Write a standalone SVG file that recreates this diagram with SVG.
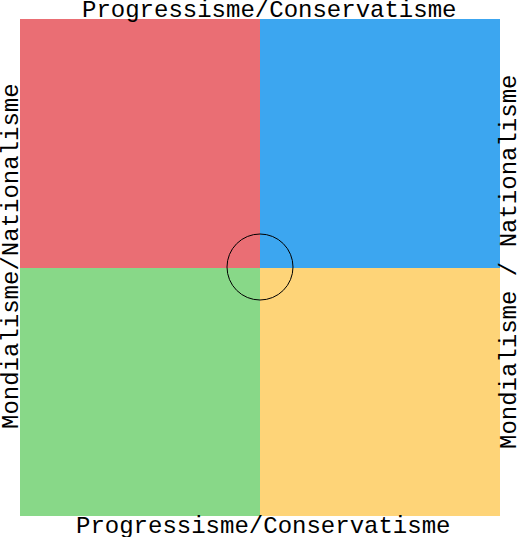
<svg xmlns="http://www.w3.org/2000/svg" width="521" height="537" viewBox="0 0 521 537">
<style>
.lbl{font-family:"Liberation Mono","Courier New",monospace;font-size:24px;fill:#000}
</style>
<rect width="521" height="537" fill="#fff"/>
<g id="q-red"><rect x="20" y="19" width="240" height="249" fill="#ea6e74"/></g>
<g id="q-blue"><rect x="260" y="19" width="240" height="249" fill="#3ca6f0"/></g>
<g id="q-green"><rect x="20" y="268" width="240" height="248" fill="#88d888"/></g>
<g id="q-yellow"><rect x="260" y="268" width="240" height="248" fill="#fed478"/></g>
<g id="center"><circle cx="260" cy="267" r="33" fill="none" stroke="#000" stroke-width="1"/></g>
<g id="labels">
<text class="lbl" x="82" y="17">Progressisme/Conservatisme</text>
<text class="lbl" x="76" y="533">Progressisme/Conservatisme</text>
<text class="lbl" transform="translate(18,429) rotate(-90)">Mondialisme/Nationalisme</text>
<text class="lbl" transform="translate(516,449) rotate(-90)">Mondialisme / Nationalisme</text>
</g>
</svg>
